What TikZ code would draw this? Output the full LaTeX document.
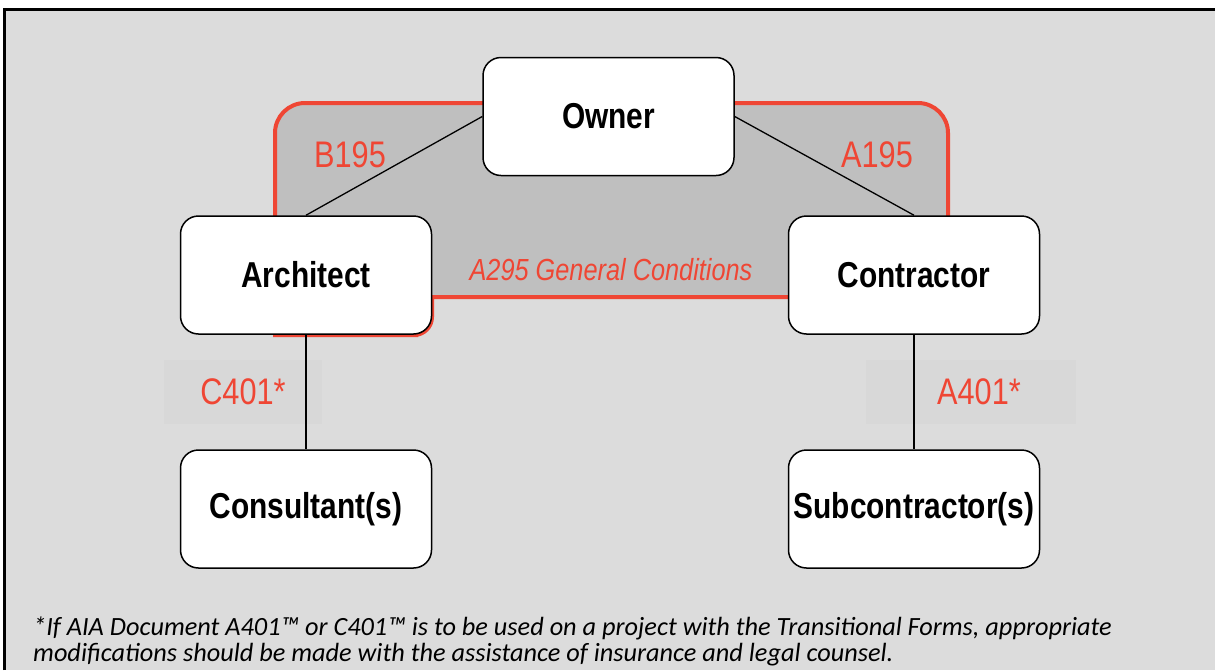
\documentclass[tikz,border=0pt]{standalone}
\usepackage{fontspec}
\setmainfont{Liberation Sans}
\newfontfamily\boxfont{Liberation Sans}[FakeStretch=0.83]
\newfontfamily\notefont{Carlito}
\definecolor{bgc}{HTML}{DCDCDC}
\definecolor{grayc}{HTML}{BFBFBF}
\definecolor{redc}{HTML}{EF4634}
\definecolor{lblbg}{HTML}{D8D8D8}
\tikzset{
  party/.style={draw=black, line width=1.5pt, fill=white, rounded corners=18pt,
    minimum width=251pt, minimum height=118pt, inner sep=0pt,
    font=\boxfont\bfseries\fontsize{36}{40}\selectfont},
  doc/.style={text=redc, inner sep=0pt, font=\boxfont\fontsize{37}{42}\selectfont},
  docbox/.style={fill=lblbg, inner sep=0pt},
  link/.style={draw=black, line width=1.3pt},
  note/.style={anchor=west, inner sep=0pt, font=\notefont\itshape\fontsize{26.3}{30}\selectfont}
}
\begin{document}
\begin{tikzpicture}[x=1pt,y=-1pt]
\useasboundingbox (0,0) rectangle (1215,670);
\fill[white] (0,0) rectangle (1215,670);
\fill[bgc] (4,9) rectangle (1215,670);
\draw[line width=3pt] (4,670) -- (4,9) -- (1215,9);
% red region
\draw[redc, line width=4pt, fill=grayc] (275,333) [rounded corners=30pt] -- (275,103) -- (948,103) -- (948,297) [sharp corners] -- (432,297) [rounded corners=18pt] -- (432,335) -- (400,335) [sharp corners] -- (275,335) -- cycle;
% label backgrounds
\node[docbox, minimum width=158pt, minimum height=64pt] (cbg) at (243,392) {};
\node[docbox, minimum width=210pt, minimum height=64pt] (abg) at (971,392) {};
% nodes
\node[party] (owner) at (608.5,116.5) {Owner};
\node[party] (arch) at (306,275) {Architect};
\node[party] (contr) at (914,275) {Contractor};
\node[party] (cons) at (306,509) {Consultant(s)};
\node[party] (sub) at (914,509) {Subcontractor(s)};
% connectors
\draw[link] (owner.west) -- (arch.north);
\draw[link] (owner.east) -- (contr.north);
\draw[link] (arch.south) -- (cons.north);
\draw[link] (contr.south) -- (sub.north);
% labels
\node[doc] (b195) at (350,155) {B195};
\node[doc] (a195) at (877,155) {A195};
\node[doc, font=\boxfont\itshape\fontsize{30.5}{34}\selectfont] (a295) at (611,270) {A295 General Conditions};
\node[doc] (c401) at (243,392) {C401*};
\node[doc] (a401) at (979,392) {A401*};
% footnote
\node[note] (note1) at (33,628) {*If AIA Document A401™ or C401™ is to be used on a project with the Transitional Forms, appropriate};
\node[note] (note2) at (33,655) {modifications should be made with the assistance of insurance and legal counsel.};
\end{tikzpicture}
\end{document}
